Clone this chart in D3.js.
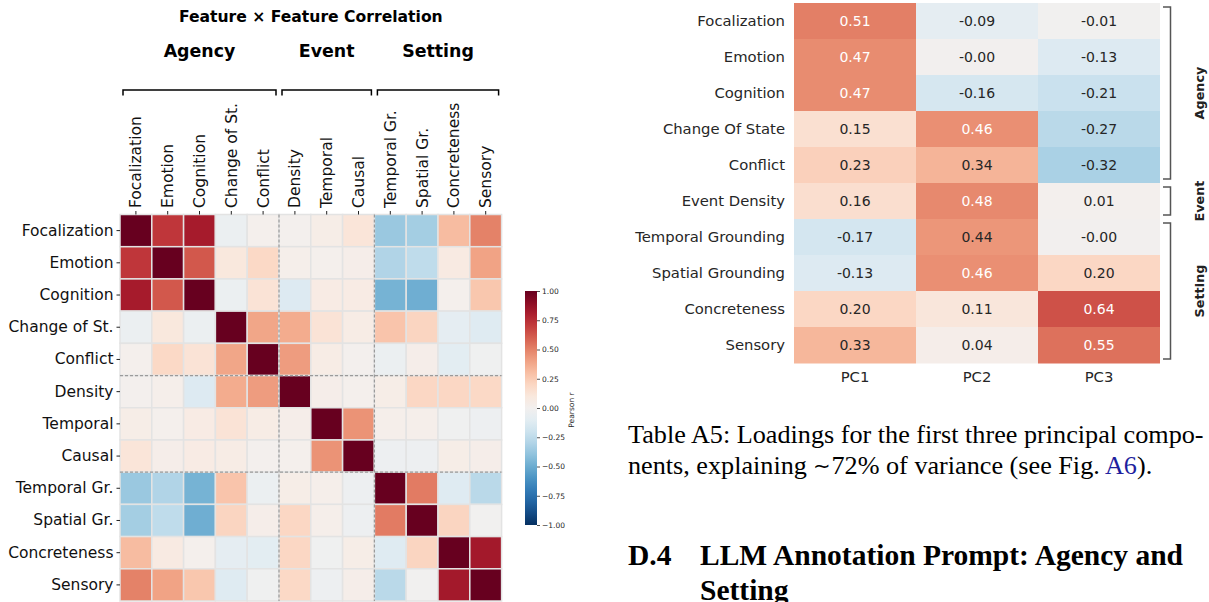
<!DOCTYPE html>
<html>
<head>
<meta charset="utf-8">
<script src="https://cdn.jsdelivr.net/npm/d3@7"></script>
<style>
  body { margin: 0; background: #fff; }
  svg { display: block; }
  text { font-family: "DejaVu Sans", sans-serif; }
  .serif { font-family: "Liberation Serif", "Times New Roman", serif; }
</style>
</head>
<body>
<svg id="chart" width="1209" height="602"></svg>
<script>
// feature x feature correlation (left heatmap)
const features = ["Focalization", "Emotion", "Cognition", "Change of St.", "Conflict",
  "Density", "Temporal", "Causal", "Temporal Gr.", "Spatial Gr.", "Concreteness", "Sensory"];
const featureGroups = [
  { name: "Agency", from: 0, to: 4 },
  { name: "Event", from: 5, to: 7 },
  { name: "Setting", from: 8, to: 11 }
];
const corrRows = [
  [1.00, 0.72, 0.82, -0.05, 0.02, 0.01, 0.05, 0.12, -0.37, -0.34, 0.31, 0.50],
  [0.72, 1.00, 0.62, 0.10, 0.19, 0.03, 0.02, 0.04, -0.30, -0.25, 0.08, 0.40],
  [0.82, 0.62, 1.00, -0.05, 0.13, -0.13, 0.07, 0.07, -0.47, -0.49, 0.02, 0.27],
  [-0.05, 0.10, -0.05, 1.00, 0.39, 0.37, 0.13, 0.06, 0.28, 0.21, -0.09, -0.12],
  [0.02, 0.19, 0.13, 0.39, 1.00, 0.42, 0.06, 0.01, -0.05, 0.04, -0.10, -0.02],
  [0.01, 0.03, -0.13, 0.37, 0.42, 1.00, 0.04, 0.02, 0.05, 0.20, 0.20, 0.19],
  [0.05, 0.02, 0.07, 0.13, 0.06, 0.04, 1.00, 0.45, 0.03, 0.03, -0.02, -0.04],
  [0.12, 0.04, 0.07, 0.06, 0.01, 0.02, 0.45, 1.00, -0.04, -0.04, 0.05, 0.04],
  [-0.37, -0.30, -0.47, 0.28, -0.05, 0.05, 0.03, -0.04, 1.00, 0.52, -0.12, -0.27],
  [-0.34, -0.25, -0.49, 0.21, 0.04, 0.20, 0.03, -0.04, 0.52, 1.00, 0.21, -0.01],
  [0.31, 0.08, 0.02, -0.09, -0.10, 0.20, -0.02, 0.05, -0.12, 0.21, 1.00, 0.83],
  [0.50, 0.40, 0.27, -0.12, -0.02, 0.19, -0.04, 0.04, -0.27, -0.01, 0.83, 1.00]
];
const colorbarTicks = [1, 0.75, 0.5, 0.25, 0, -0.25, -0.5, -0.75, -1];

// PCA loadings (right heatmap)
const pcaFeatures = ["Focalization", "Emotion", "Cognition", "Change Of State", "Conflict",
  "Event Density", "Temporal Grounding", "Spatial Grounding", "Concreteness", "Sensory"];
const pcLabels = ["PC1", "PC2", "PC3"];
const pc1 = [0.51, 0.47, 0.47, 0.15, 0.23, 0.16, -0.17, -0.13, 0.20, 0.33];
const pc2 = [-0.09, -0.0, -0.16, 0.46, 0.34, 0.48, 0.44, 0.46, 0.11, 0.04];
const pc3 = [-0.01, -0.13, -0.21, -0.27, -0.32, 0.01, -0.0, 0.20, 0.64, 0.55];
const pcaGroups = [
  { name: "Agency", from: 0, to: 4 },
  { name: "Event", from: 5, to: 5 },
  { name: "Setting", from: 6, to: 9 }
];

const svg = d3.select("#chart");
const color = d3.scaleSequential(d3.interpolateRdBu).domain([1, -1]);
const dark = "#262626";

// ---------- left: correlation heatmap ----------
const x = d3.scaleBand().domain(features).range([120, 501.6]);
const y = d3.scaleBand().domain(features).range([214.5, 601]);

const cells = [];
corrRows.forEach((row, i) => row.forEach((v, j) => cells.push({ r: features[i], c: features[j], v })));

svg.append("g")
  .selectAll("rect")
  .data(cells)
  .join("rect")
  .attr("x", d => x(d.c))
  .attr("y", d => y(d.r))
  .attr("width", x.bandwidth())
  .attr("height", y.bandwidth())
  .attr("fill", d => color(d.v))
  .attr("stroke", "#e3e3e3")
  .attr("stroke-width", 1.5);

// dashed group separators
const cuts = featureGroups.slice(1).map(g => features[g.from]);
const sep = svg.append("g")
  .attr("stroke", "#9a9a9a")
  .attr("stroke-width", 1.2)
  .attr("stroke-dasharray", "3,2");
cuts.forEach(f => {
  sep.append("line").attr("x1", x(f)).attr("x2", x(f)).attr("y1", y.range()[0]).attr("y2", y.range()[1]);
  sep.append("line").attr("y1", y(f)).attr("y2", y(f)).attr("x1", x.range()[0]).attr("x2", x.range()[1]);
});

// axes (top + left)
const xAxis = svg.append("g")
  .attr("transform", `translate(0,${y.range()[0]})`)
  .call(d3.axisTop(x).tickSize(3.5).tickPadding(4));
xAxis.selectAll(".tick").attr("transform", null);
xAxis.selectAll(".tick line")
  .attr("x1", d => x(d) + x.bandwidth() / 2)
  .attr("x2", d => x(d) + x.bandwidth() / 2);
xAxis.selectAll("text")
  .attr("text-anchor", "start")
  .attr("dy", "0.35em")
  .attr("x", 6.5)
  .attr("y", 0)
  .attr("transform", d => `translate(${x.bandwidth() / 2 + x(d)},0) rotate(-90)`)
  .style("font-size", "15.5px")
  .attr("fill", "#111");

const yAxis = svg.append("g")
  .attr("transform", `translate(${x.range()[0]},0)`)
  .call(d3.axisLeft(y).tickSize(3.5).tickPadding(3));
yAxis.selectAll("text").style("font-size", "15.5px").attr("fill", "#111");

[xAxis, yAxis].forEach(a => {
  a.select(".domain").remove();
  a.selectAll(".tick line").attr("stroke", "#222").attr("stroke-width", 1);
});

// group brackets above the heatmap
featureGroups.forEach(g => {
  const x0 = x(features[g.from]) + 3;
  const x1 = x(features[g.to]) + x.bandwidth() - 3;
  svg.append("path")
    .attr("d", `M${x0},95.5V90H${x1}V95.5`)
    .attr("fill", "none")
    .attr("stroke", "#000")
    .attr("stroke-width", 1.5);
  svg.append("text")
    .attr("x", (x0 + x1) / 2)
    .attr("y", 57)
    .attr("text-anchor", "middle")
    .style("font-size", "17.4px")
    .style("font-weight", "bold")
    .text(g.name);
});

svg.append("text")
  .attr("x", (x.range()[0] + x.range()[1]) / 2)
  .attr("y", 22)
  .attr("text-anchor", "middle")
  .style("font-size", "15.6px")
  .style("font-weight", "bold")
  .text("Feature \u00d7 Feature Correlation");

// colorbar
const cb = d3.scaleLinear().domain([-1, 1]).range([525, 291]);
const grad = svg.append("defs").append("linearGradient")
  .attr("id", "cbgrad").attr("x1", 0).attr("y1", 1).attr("x2", 0).attr("y2", 0);
d3.range(0, 1.0001, 0.05).forEach(t => {
  grad.append("stop").attr("offset", t).attr("stop-color", color(-1 + 2 * t));
});
svg.append("rect")
  .attr("x", 525).attr("y", cb(1))
  .attr("width", 12).attr("height", cb(-1) - cb(1))
  .attr("fill", "url(#cbgrad)");
const cbAxis = svg.append("g")
  .attr("transform", "translate(537,0)")
  .call(d3.axisRight(cb).tickValues(colorbarTicks).tickSize(3).tickPadding(2).tickFormat(d3.format(".2f")));
cbAxis.select(".domain").remove();
cbAxis.selectAll("text").style("font-size", "7.5px").attr("fill", dark);
cbAxis.selectAll(".tick line").attr("stroke", dark).attr("stroke-width", 0.8);
svg.append("text")
  .attr("transform", "translate(574,410) rotate(-90)")
  .attr("text-anchor", "middle")
  .style("font-size", "7.5px")
  .attr("fill", dark)
  .text("Pearson r");

// ---------- right: PCA loadings ----------
const px = d3.scaleBand().domain(pcLabels).range([794, 1160]);
const py = d3.scaleBand().domain(pcaFeatures).range([3, 363]);
const pcs = [pc1, pc2, pc3];
const loadCells = [];
pcaFeatures.forEach((f, i) => pcs.forEach((col, j) => loadCells.push({ r: f, c: pcLabels[j], v: col[i] })));

function luminance(c) {
  const rgb = d3.rgb(c);
  const lin = v => { v /= 255; return v <= 0.03928 ? v / 12.92 : Math.pow((v + 0.055) / 1.055, 2.4); };
  return 0.2126 * lin(rgb.r) + 0.7152 * lin(rgb.g) + 0.0722 * lin(rgb.b);
}
const fmt = v => (v < 0 || Object.is(v, -0) ? "-" : "") + Math.abs(v).toFixed(2);

const lc = svg.append("g").selectAll("g").data(loadCells).join("g");
lc.append("rect")
  .attr("x", d => px(d.c))
  .attr("y", d => py(d.r))
  .attr("width", px.bandwidth())
  .attr("height", py.bandwidth() + 0.5)
  .attr("fill", d => color(d.v));
lc.append("text")
  .attr("x", d => px(d.c) + px.bandwidth() / 2)
  .attr("y", d => py(d.r) + py.bandwidth() / 2)
  .attr("dy", "0.35em")
  .attr("text-anchor", "middle")
  .style("font-size", "14px")
  .attr("fill", d => luminance(color(d.v)) > 0.408 ? dark : "#fff")
  .text(d => fmt(d.v));

const pyAxis = svg.append("g")
  .attr("transform", "translate(794,0)")
  .call(d3.axisLeft(py).tickSize(0).tickPadding(9));
pyAxis.select(".domain").remove();
pyAxis.selectAll("text").style("font-size", "14.8px").attr("fill", dark);

const pxAxis = svg.append("g")
  .attr("transform", "translate(0,363)")
  .call(d3.axisBottom(px).tickSize(0).tickPadding(8));
pxAxis.select(".domain").remove();
pxAxis.selectAll("text").style("font-size", "14.8px").attr("fill", dark);

pcaGroups.forEach(g => {
  const y0 = py(pcaFeatures[g.from]) + 4;
  const y1 = py(pcaFeatures[g.to]) + py.bandwidth() - 4;
  svg.append("path")
    .attr("d", `M1163,${y0}H1170.5V${y1}H1163`)
    .attr("fill", "none")
    .attr("stroke", "#555")
    .attr("stroke-width", 1.5);
  svg.append("text")
    .attr("transform", `translate(1200,${(y0 + y1) / 2}) rotate(-90)`)
    .attr("text-anchor", "middle")
    .attr("dy", "0.35em")
    .style("font-size", "12.8px")
    .style("font-weight", "bold")
    .attr("fill", "#222")
    .text(g.name);
});

// ---------- caption and section heading ----------
const cap = svg.append("g").style("font-size", "26.2px").attr("fill", "#000");
cap.append("text").attr("class", "serif").attr("x", 628).attr("y", 443)
  .text("Table A5: Loadings for the first three principal compo-");
const line2 = cap.append("text").attr("class", "serif").attr("x", 628).attr("y", 474);
line2.append("tspan").text("nents, explaining ");
line2.append("tspan").style("font-size", "21px").attr("dy", -1).text("\u223c");
line2.append("tspan").attr("dy", 1).text("72% of variance (see Fig. ");
line2.append("tspan").attr("fill", "#1f1f9e").text("A6");
line2.append("tspan").text(").");

const head = svg.append("g").style("font-size", "29.5px").style("font-weight", "bold").attr("fill", "#000");
head.append("text").attr("class", "serif").attr("x", 628).attr("y", 565).text("D.4");
head.append("text").attr("class", "serif").attr("x", 700).attr("y", 565).text("LLM Annotation Prompt: Agency and");
head.append("text").attr("class", "serif").attr("x", 700).attr("y", 600).text("Setting");
</script>
</body>
</html>
